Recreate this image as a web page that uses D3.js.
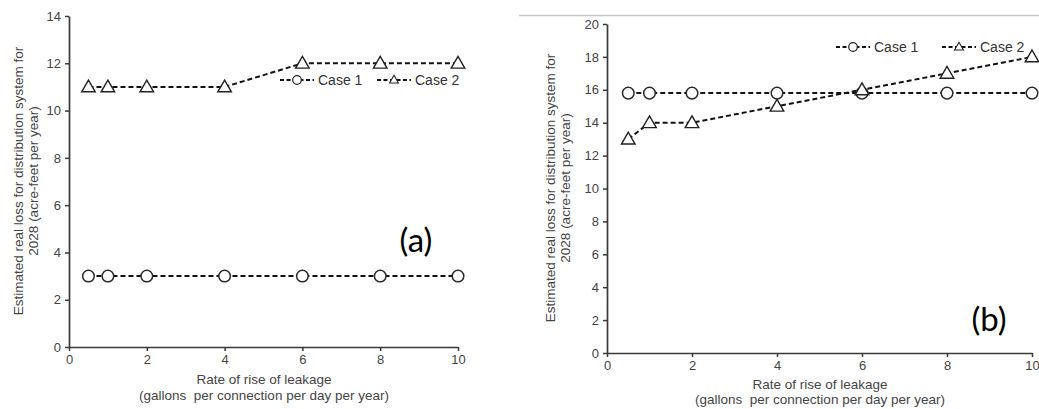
<!DOCTYPE html>
<html>
<head>
<meta charset="utf-8">
<script src="https://cdn.jsdelivr.net/npm/d3@7"></script>
<style>
  html, body { margin: 0; padding: 0; background: #fff; }
  svg { display: block; }
  text { font-family: "Liberation Sans", Arial, sans-serif; }
</style>
</head>
<body>
<svg id="chart" width="1039" height="409"></svg>
<script>
// Leakage rise rates (gallons per connection per day per year)
const leakRates = [0.5, 1, 2, 4, 6, 8, 10];

// Panel (a): estimated real loss for 2028 (acre-feet per year)
const lossA_case1 = [3, 3, 3, 3, 3, 3, 3];
const lossA_case2 = [11, 11, 11, 11, 12, 12, 12];

// Panel (b)
const lossB_case1 = [15.8, 15.8, 15.8, 15.8, 15.8, 15.8, 15.8];
const lossB_case2 = [13, 14, 14, 15, 16, 17, 18];

const xTicks = [0, 2, 4, 6, 8, 10];
const yTicksA = [0, 2, 4, 6, 8, 10, 12, 14];
const yTicksB = [0, 2, 4, 6, 8, 10, 12, 14, 16, 18, 20];

const seriesNames = ["Case 1", "Case 2"];
const panelLabels = ["(a)", "(b)"];
const yTitle = ["Estimated real loss for distribution system for", "2028 (acre-feet per year)"];
const xTitle = ["Rate of rise of leakage", "(gallons\u00a0 per connection per day per year)"];

const svg = d3.select("#chart");

// thin rule above the second panel
svg.append("line")
  .attr("x1", 519).attr("x2", 1039).attr("y1", 15.5).attr("y2", 15.5)
  .attr("stroke", "#c8c8c8").attr("stroke-width", 1.5);

const panels = [
  {
    label: panelLabels[0], c1: lossA_case1, c2: lossA_case2, yTicks: yTicksA,
    left: 69, right: 458, top: 16, bottom: 347,
    yTitleX: 23, yTitleY: 181, xTitleX: 264, xTitleY: 384, xTitleGap: 16,
    legendY: 80, legendX: [280, 377], labelPos: [416, 252]
  },
  {
    label: panelLabels[1], c1: lossB_case1, c2: lossB_case2, yTicks: yTicksB,
    left: 607, right: 1032, top: 24, bottom: 353,
    yTitleX: 555, yTitleY: 188, xTitleX: 820, xTitleY: 389, xTitleGap: 14.5,
    legendY: 47, legendX: [836, 942], labelPos: [989, 331]
  }
];

const triangle = d3.symbol().type(d3.symbolTriangle);

function drawTriangle(g, cx, cy, size, sw) {
  g.append("path")
    .attr("d", triangle.size(size)())
    .attr("transform", `translate(${cx},${cy + size * 0.012})`)
    .attr("fill", "#fff").attr("stroke", "#222").attr("stroke-width", sw);
}

panels.forEach(p => {
  const g = svg.append("g");
  const x = d3.scaleLinear().domain([0, 10]).range([p.left, p.right]);
  const yMax = p.yTicks[p.yTicks.length - 1];
  const y = d3.scaleLinear().domain([0, yMax]).range([p.bottom, p.top]);

  // axes
  const xAxis = g.append("g").attr("transform", `translate(0,${p.bottom})`)
    .call(d3.axisBottom(x).tickValues(xTicks).tickSize(4).tickSizeOuter(0).tickPadding(4));
  const yAxis = g.append("g").attr("transform", `translate(${p.left},0)`)
    .call(d3.axisLeft(y).tickValues(p.yTicks).tickSize(4).tickSizeOuter(0).tickPadding(4));
  [xAxis, yAxis].forEach(a => {
    a.select(".domain").attr("stroke", "#3a3a3a").attr("stroke-width", 1.7);
    a.selectAll(".tick line").attr("stroke", "#3a3a3a").attr("stroke-width", 1.5);
    a.selectAll(".tick text").attr("fill", "#444").style("font-size", "13px");
  });

  // y axis title (two lines, rotated)
  const yt = g.append("text")
    .attr("transform", `translate(${p.yTitleX},${p.yTitleY}) rotate(-90)`)
    .attr("text-anchor", "middle").attr("fill", "#444").style("font-size", "13.5px");
  yt.append("tspan").attr("x", 0).attr("dy", 0).text(yTitle[0]);
  yt.append("tspan").attr("x", 0).attr("dy", 15).text(yTitle[1]);

  // x axis title
  const xt = g.append("text")
    .attr("x", p.xTitleX).attr("y", p.xTitleY)
    .attr("text-anchor", "middle").attr("fill", "#444").style("font-size", "13.5px");
  xt.append("tspan").attr("x", p.xTitleX).attr("dy", 0).text(xTitle[0]);
  xt.append("tspan").attr("x", p.xTitleX).attr("dy", p.xTitleGap).text(xTitle[1]);

  const line = d3.line().x((d, i) => x(leakRates[i])).y(d => y(d));

  [p.c1, p.c2].forEach(vals => {
    g.append("path").datum(vals)
      .attr("d", line).attr("fill", "none")
      .attr("stroke", "#111").attr("stroke-width", 2)
      .attr("stroke-dasharray", "5,3");
  });

  // Case 1 markers: open circles
  g.selectAll(null).data(p.c1).enter().append("circle")
    .attr("cx", (d, i) => x(leakRates[i])).attr("cy", d => y(d))
    .attr("r", 5.8).attr("fill", "#fff").attr("stroke", "#2a2a2a").attr("stroke-width", 1.5);

  // Case 2 markers: open triangles
  p.c2.forEach((d, i) => drawTriangle(g, x(leakRates[i]), y(d), 80, 1.4));

  // legend
  p.legendX.forEach((lx, k) => {
    g.append("line")
      .attr("x1", lx).attr("x2", lx + 34).attr("y1", p.legendY).attr("y2", p.legendY)
      .attr("stroke", "#111").attr("stroke-width", 1.8).attr("stroke-dasharray", "4,2.5");
    if (k === 0) {
      g.append("circle").attr("cx", lx + 17).attr("cy", p.legendY).attr("r", 4.3)
        .attr("fill", "#fff").attr("stroke", "#222").attr("stroke-width", 1.2);
    } else {
      drawTriangle(g, lx + 17, p.legendY, 34, 1.1);
    }
    g.append("text").attr("x", lx + 38).attr("y", p.legendY + 5)
      .attr("fill", "#333").style("font-size", "14px").text(seriesNames[k]);
  });

  // panel tag
  g.append("text").attr("x", p.labelPos[0]).attr("y", p.labelPos[1])
    .attr("text-anchor", "middle").attr("fill", "#000")
    .style("font-family", "Lato, 'Open Sans', sans-serif").style("font-size", "33px")
    .text(p.label);
});
</script>
</body>
</html>
